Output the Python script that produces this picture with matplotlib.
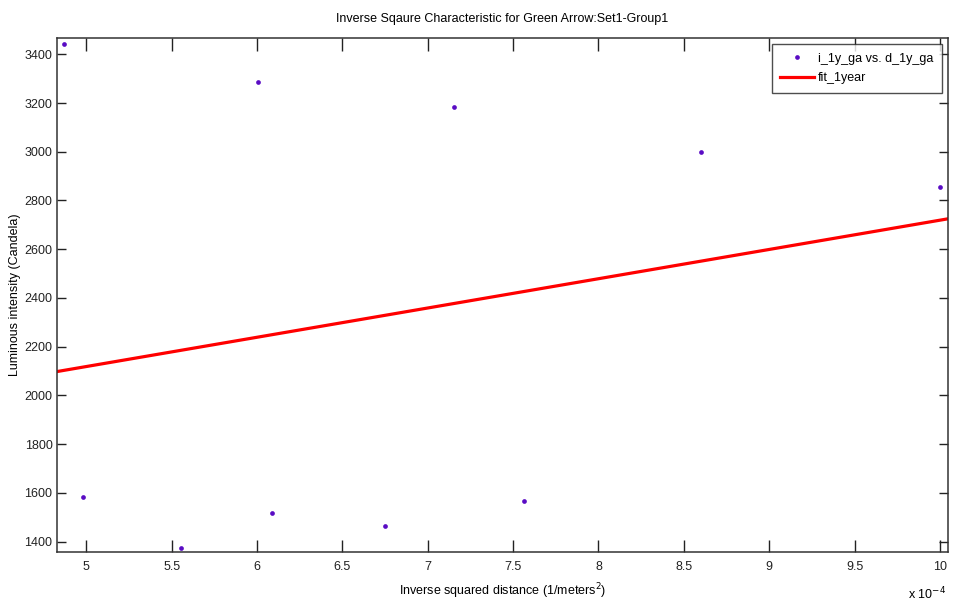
import matplotlib
matplotlib.use("Agg")
import matplotlib.pyplot as plt
from matplotlib.ticker import FuncFormatter, FixedLocator

plt.rcParams['font.family'] = ['Liberation Sans', 'DejaVu Sans']

# data (x in 1/m^2)
dist_x = [4.869e-4, 4.98e-4, 5.553e-4, 6.004e-4, 6.09e-4, 6.75e-4,
          7.154e-4, 7.563e-4, 8.603e-4, 10.0e-4]
intensity_y = [3442, 1582, 1375, 3286, 1518, 1464, 3184, 1567, 2999, 2857]

fit_x = [4.827e-4, 10.049e-4]
fit_y = [2097.6, 2725]

xticks = [5e-4, 5.5e-4, 6e-4, 6.5e-4, 7e-4, 7.5e-4, 8e-4, 8.5e-4, 9e-4, 9.5e-4, 10e-4]
yticks = [1400, 1600, 1800, 2000, 2200, 2400, 2600, 2800, 3000, 3200, 3400]

FS = 9

fig = plt.figure(figsize=(9.56, 6.13), dpi=100)
ax = fig.add_axes([0.0593, 0.099, 0.9327, 0.8395])

ax.plot(dist_x, intensity_y, linestyle='none', marker='o', markersize=3.4,
        color='#5a0cc4', markeredgewidth=0, label='i_1y_ga vs. d_1y_ga')
ax.plot(fit_x, fit_y, color='#ff0000', linewidth=2.3, label='fit_1year')

ax.set_xlim(4.827e-4, 10.049e-4)
ax.set_ylim(1356, 3468)
ax.xaxis.set_major_locator(FixedLocator(xticks))
ax.yaxis.set_major_locator(FixedLocator(yticks))
ax.xaxis.set_major_formatter(FuncFormatter(lambda v, p: ('%g' % round(v * 1e4, 3))))
ax.yaxis.set_major_formatter(FuncFormatter(lambda v, p: '%d' % v))

ax.tick_params(axis='x', direction='in', length=9, width=1, top=True, labelsize=FS,
               pad=6, colors='#222222')
ax.tick_params(axis='y', direction='in', length=6.5, width=1, right=True, labelsize=FS,
               pad=3, colors='#222222')
for s in ax.spines.values():
    s.set_color('#333333')
    s.set_linewidth(1.1)

ax.set_title('Inverse Sqaure Characteristic for Green Arrow:Set1-Group1', fontsize=FS, pad=11)
ax.set_xlabel('Inverse squared distance (1/meters$^2$)', fontsize=FS, labelpad=6)
ax.set_ylabel('Luminous intensity (Candela)', fontsize=FS)
ax.yaxis.set_label_coords(-0.040, 0.5)

fig.text(0.990, 0.022, r'x 10$^{-4}$', fontsize=FS, ha='right', va='baseline')

leg = ax.legend(loc='upper right', fontsize=FS, frameon=True, fancybox=False,
                edgecolor='#222222', borderpad=0.7, handlelength=2.7, handletextpad=0.3,
                labelspacing=0.6, borderaxespad=0.5, markerscale=1.0)
leg.get_frame().set_linewidth(1.0)

fig.savefig('out.png', dpi=100)
